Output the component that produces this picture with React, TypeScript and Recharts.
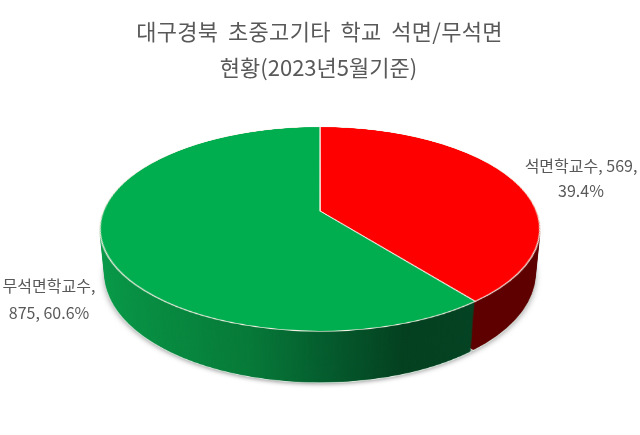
import { PieChart, Pie, Cell } from "recharts"

const names = ["석면학교수", "무석면학교수"]
const values = [569, 875]
const percents = ["39.4%", "60.6%"]
const titleLines = ["대구경북 초중고기타 학교 석면/무석면", "현황(2023년5월기준)"]

const topColors = ["#ff0000", "#00ad4f"]
const wallColors = ["#5e0000", "url(#wallGreen)"]

const data = names.map((name, i) => ({ name, value: values[i] }))

const SIZE = 500
const RADIUS = 216.5
const DEPTH = 52
const depths = Array.from({ length: DEPTH }, (_, i) => DEPTH - i)

const textColor = "#595959"
const fontFamily = "'Noto Sans CJK KR', 'Noto Sans', sans-serif"

function Disc({ colors, stroke, strokeWidth, padding = 0 }: { colors: string[]; stroke: string; strokeWidth: number; padding?: number }) {
  return (
    <PieChart width={SIZE} height={SIZE} margin={{ top: 0, right: 0, bottom: 0, left: 0 }}>
      <defs>
        <linearGradient id="wallGreen" gradientUnits="userSpaceOnUse" x1="33" y1="0" x2="467" y2="0">
          <stop offset="0" stopColor="#079b48" />
          <stop offset="0.36" stopColor="#067a38" />
          <stop offset="0.5" stopColor="#045e2e" />
          <stop offset="0.66" stopColor="#03401f" />
          <stop offset="0.81" stopColor="#034222" />
        </linearGradient>
      </defs>
      <Pie
        data={data}
        dataKey="value"
        cx={SIZE / 2}
        cy={SIZE / 2}
        innerRadius={0}
        outerRadius={RADIUS}
        startAngle={90}
        endAngle={-270}
        paddingAngle={padding}
        stroke={stroke}
        strokeWidth={strokeWidth}
        label={false}
        labelLine={false}
        isAnimationActive={false}
      >
        {data.map((d, i) => (
          <Cell key={d.name} fill={colors[i]} stroke={stroke} strokeWidth={strokeWidth} />
        ))}
      </Pie>
    </PieChart>
  )
}

function Layer({ z, blur, children }: { z: number; blur?: number; children: React.ReactNode }) {
  return (
    <div
      style={{
        position: "absolute",
        left: 0,
        top: 0,
        width: SIZE,
        height: SIZE,
        transform: `translateZ(${z}px)`,
        filter: blur ? `blur(${blur}px)` : undefined,
      }}
    >
      {children}
    </div>
  )
}

function TextLine({ x, y, size, children, spacing = 0, wordGap = 0 }: { x: number; y: number; size: number; children: string; spacing?: number; wordGap?: number }) {
  return (
    <div
      style={{
        position: "absolute",
        left: x - 200,
        top: y - size,
        width: 400,
        lineHeight: `${size * 2}px`,
        textAlign: "center",
        fontSize: size,
        letterSpacing: spacing,
        wordSpacing: wordGap,
        color: textColor,
        fontFamily,
        whiteSpace: "nowrap",
      }}
    >
      {children}
    </div>
  )
}

export default function App() {
  return (
    <div style={{ position: "absolute", left: 0, top: 0, width: 640, height: 435, overflow: "hidden", background: "#fff" }}>
      <div
        style={{
          position: "absolute",
          left: 320 - SIZE / 2,
          top: 211 - SIZE / 2,
          width: SIZE,
          height: SIZE,
          perspective: "1091px",
          perspectiveOrigin: "50% 50%",
        }}
      >
        <div
          style={{
            position: "absolute",
            left: 0,
            top: 0,
            width: SIZE,
            height: SIZE,
            transformStyle: "preserve-3d",
            transform: "rotateX(62.8deg)",
          }}
        >
          <Layer z={-DEPTH - 1} blur={3}>
            <Disc colors={["#8a8a8a", "#8a8a8a"]} stroke="none" strokeWidth={0} />
          </Layer>
          <Layer z={-DEPTH}>
            <Disc colors={wallColors} stroke="#dfeee4" strokeWidth={1.2} padding={0.8} />
          </Layer>
          {depths.slice(1).map((d) => (
            <Layer key={d} z={-d}>
              <Disc colors={wallColors} stroke="none" strokeWidth={0} padding={0.8} />
            </Layer>
          ))}
          <Layer z={0}>
            <Disc colors={topColors} stroke="#f4efe4" strokeWidth={1.3} />
          </Layer>
        </div>
      </div>
      <TextLine x={319.5} y={30} size={22} spacing={0.3} wordGap={4.5}>{titleLines[0]}</TextLine>
      <TextLine x={318.5} y={66} size={22}>{titleLines[1]}</TextLine>
      <TextLine x={581} y={165} size={16}>{`${names[0]}, ${values[0]},`}</TextLine>
      <TextLine x={581} y={190} size={16}>{percents[0]}</TextLine>
      <TextLine x={49} y={285} size={16}>{`${names[1]},`}</TextLine>
      <TextLine x={49} y={312} size={16}>{`${values[1]}, ${percents[1]}`}</TextLine>
    </div>
  )
}
